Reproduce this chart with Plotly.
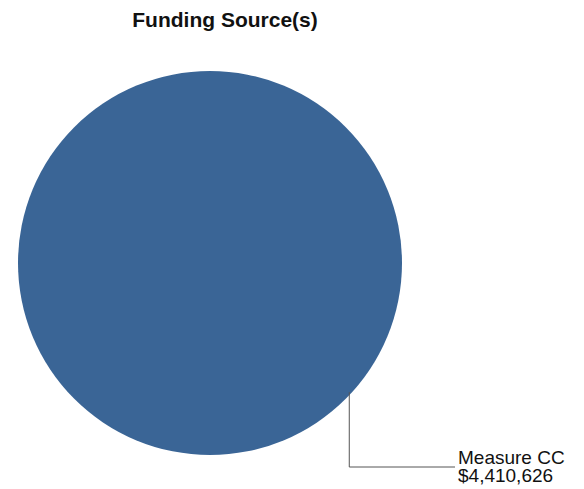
import math
import plotly.graph_objects as go

# ---- data ----
labels = ["Measure CC"]
values = [4410626]
colors = ["#3a6596"]
title_text = "Funding Source(s)"

# window size and the default 8px page margin of the html body
WIN_W, WIN_H = 584, 489
OFF = 8
W, H = WIN_W - OFF, WIN_H - OFF


def px(x):
    """window pixel x -> paper coordinate"""
    return (x - OFF) / W


def py(y):
    """window pixel y -> paper coordinate"""
    return 1 - (y - OFF) / H


# pie geometry (window pixels) -> paper domain
pie_left, pie_right = 18, 402
pie_top, pie_bottom = 71, 455
dom_x = [px(pie_left), px(pie_right)]
dom_y = [py(pie_bottom), py(pie_top)]

fig = go.Figure(
    go.Pie(
        labels=labels,
        values=values,
        marker=dict(colors=colors, line=dict(width=0)),
        textinfo="none",
        hoverinfo="label+value",
        sort=False,
        domain=dict(x=dom_x, y=dom_y),
        showlegend=False,
    )
)

# connector geometry derived from the pie's circle
cx = (pie_left + pie_right) / 2
cy = (pie_top + pie_bottom) / 2
r = (pie_right - pie_left) / 2
ang = math.radians(43.5)  # angle below horizontal where connector leaves the slice
sx = cx + r * math.cos(ang)
sy = cy + r * math.sin(ang)
elbow_y = 467
end_x = 455

line_style = dict(color="#555555", width=1)
fig.add_shape(type="line", xref="paper", yref="paper",
              x0=px(sx), y0=py(sy - 3), x1=px(sx), y1=py(elbow_y), line=line_style)
fig.add_shape(type="line", xref="paper", yref="paper",
              x0=px(sx), y0=py(elbow_y), x1=px(end_x), y1=py(elbow_y), line=line_style)

label_font = dict(family="Liberation Sans, Arial, sans-serif", size=19, color="#111111")
fig.add_annotation(xref="paper", yref="paper", x=px(end_x + 1), y=py(457),
                   xanchor="left", yanchor="middle", showarrow=False,
                   text=labels[0], font=label_font)
fig.add_annotation(xref="paper", yref="paper", x=px(end_x + 1), y=py(475.5),
                   xanchor="left", yanchor="middle", showarrow=False,
                   text="${:,}".format(values[0]), font=label_font)

fig.update_layout(
    width=W, height=H,
    margin=dict(l=0, r=0, t=0, b=0),
    paper_bgcolor="white",
    plot_bgcolor="white",
    title=dict(text="<b>" + title_text + "</b>", x=px(225), xanchor="center",
               y=py(20), yanchor="middle",
               font=dict(family="Liberation Sans, Arial, sans-serif", size=21, color="#111111")),
)

fig.write_html("out.html")
